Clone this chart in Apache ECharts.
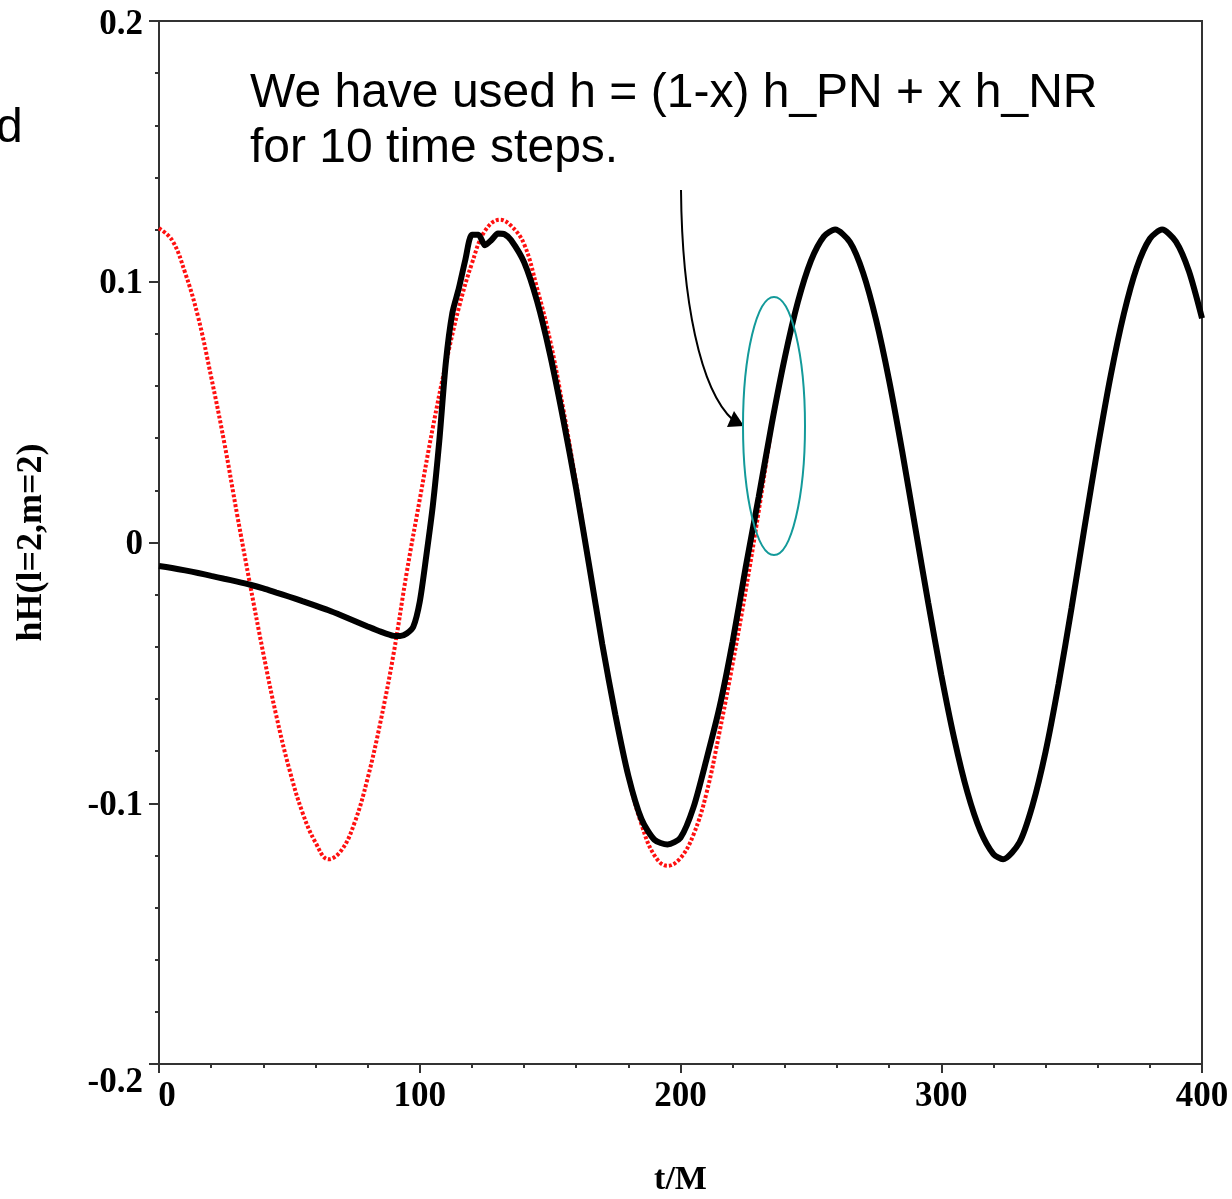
<!DOCTYPE html>
<html>
<head>
<meta charset="utf-8">
<script src="https://cdn.jsdelivr.net/npm/echarts@6/dist/echarts.min.js"></script>
<style>
html,body{margin:0;padding:0;background:#fff;}
#chart{width:1232px;height:1199px;}
</style>
</head>
<body>
<div id="chart"></div>
<script>
// ---- data ----
const tRed = [0,5,10,15,20,25,30,35,40,45,50,55,60,65,70,75,80,85,90,95,100,105,110,115,120,125,130.8,135,140,145,150,155,160,165,170,175,180,185,190,195,200,205,210,215,220,225,230,235];
const hRed = [0.1205,0.1160,0.1035,0.0865,0.0635,0.0385,0.0105,-0.0165,-0.0425,-0.0665,-0.0870,-0.1035,-0.1150,-0.1215,-0.1180,-0.1075,-0.0905,-0.0685,-0.0425,-0.0115,0.0165,0.0440,0.0685,0.0900,0.1070,0.1195,0.1238,0.1215,0.1145,0.0975,0.0775,0.0515,0.0225,-0.0085,-0.0390,-0.0660,-0.0900,-0.1080,-0.1200,-0.1240,-0.1210,-0.1120,-0.0960,-0.0725,-0.0465,-0.0185,0.0120,0.0450];

const tBlack = [0,5,10,15,20,25,30,35,40,45,50,55,60,65,70,75,80,85,90,92.5,95,97.5,100,102.5,105,107.5,110,112.5,115,117.5,120,122.5,125,127.5,130,132.5,135,140,145,150,155,160,165,170,175,180,185,190,195,200,205,210,215,220,225,230,235,240,245,250,255,259.3,265,270,275,280,285,290,295,300,305,310,315,320,323.7,330,335,340,345,350,355,360,365,370,375,380,384.7,390,395,400];
const hBlack = [-0.0090,-0.0098,-0.0107,-0.0117,-0.0128,-0.0139,-0.0150,-0.0162,-0.0176,-0.0192,-0.0208,-0.0225,-0.0242,-0.0260,-0.0280,-0.0301,-0.0322,-0.0342,-0.0358,-0.0359,-0.0349,-0.0324,-0.0227,-0.0052,0.0140,0.0390,0.0690,0.0880,0.0975,0.1085,0.1180,0.1180,0.1140,0.1160,0.1185,0.1182,0.1160,0.1075,0.0925,0.0720,0.0474,0.0205,-0.0090,-0.0390,-0.0660,-0.0895,-0.1060,-0.1140,-0.1158,-0.1132,-0.1015,-0.0830,-0.0630,-0.0380,-0.0095,0.0175,0.0455,0.0709,0.0922,0.1080,0.1174,0.1200,0.1152,0.1035,0.0854,0.0622,0.0351,0.0059,-0.0231,-0.0507,-0.0753,-0.0957,-0.1106,-0.1195,-0.1215,-0.1150,-0.1008,-0.0803,-0.0543,-0.0249,0.0061,0.0363,0.0641,0.0876,0.1055,0.1165,0.1200,0.1154,0.1040,0.0860];

const xTicks = [0,100,200,300,400];
const yTicks = [-0.2,-0.1,0,0.1,0.2];
const xName = 't/M';
const yName = 'hH(l=2,m=2)';
const noteLine1 = 'We have used h = (1-x) h_PN + x h_NR';
const noteLine2 = 'for 10 time steps.';

const redData = tRed.map((t,i)=>[t,hRed[i]]);
const blackData = tBlack.map((t,i)=>[t,hBlack[i]]);

const serif = '"Liberation Serif","DejaVu Serif",serif';
const sans = '"Liberation Sans",Arial,sans-serif';
const axisCol = '#333';
const lblSize = 35;

const chart = echarts.init(document.getElementById('chart'), null, {renderer:'canvas'});
chart.setOption({
  animation:false,
  backgroundColor:'#fff',
  grid:{left:159,right:30,top:21,bottom:135,show:true,borderColor:axisCol,borderWidth:2,containLabel:false,outerBoundsMode:'none'},
  xAxis:{
    type:'value',min:xTicks[0],max:xTicks[xTicks.length-1],interval:100,
    name:xName,nameLocation:'middle',nameGap:99,
    nameTextStyle:{fontFamily:serif,fontWeight:'bold',fontSize:34,color:'#000'},
    axisLine:{show:true,onZero:false,lineStyle:{color:axisCol,width:2}},
    axisTick:{show:true,inside:false,length:9,lineStyle:{color:axisCol,width:2}},
    minorTick:{show:true,splitNumber:5,length:4,lineStyle:{color:axisCol,width:2}},
    splitLine:{show:false},
    axisLabel:{
      margin:15,color:'#000',fontFamily:serif,fontWeight:'bold',fontSize:lblSize,
      formatter:function(v){ return v===0 ? '{z|0}' : '{n|'+v+'}'; },
      rich:{z:{fontFamily:serif,fontWeight:'bold',fontSize:lblSize,color:'#000',padding:[0,0,0,16]},
            n:{fontFamily:serif,fontWeight:'bold',fontSize:lblSize,color:'#000'}}
    }
  },
  yAxis:{
    type:'value',min:yTicks[0],max:yTicks[yTicks.length-1],interval:0.1,
    name:yName,nameLocation:'middle',nameGap:109,nameRotate:90,
    nameTextStyle:{fontFamily:serif,fontWeight:'bold',fontSize:36,color:'#000'},
    axisLine:{show:true,onZero:false,lineStyle:{color:axisCol,width:2}},
    axisTick:{show:true,inside:false,length:10,lineStyle:{color:axisCol,width:2}},
    minorTick:{show:true,splitNumber:5,length:4,lineStyle:{color:axisCol,width:2}},
    splitLine:{show:false},
    axisLabel:{
      margin:16,color:'#000',fontFamily:serif,fontWeight:'bold',fontSize:lblSize,
      formatter:function(v){
        const r = Math.round(v*10)/10;
        if (r===-0.2) return '{lo|-0.2}';
        if (r===0.2) return '{hi|0.2}';
        return '{n|'+r+'}';
      },
      rich:{
        lo:{fontFamily:serif,fontWeight:'bold',fontSize:lblSize,color:'#000',padding:[38,0,0,0]},
        hi:{fontFamily:serif,fontWeight:'bold',fontSize:lblSize,color:'#000',padding:[8,0,0,0]},
        n:{fontFamily:serif,fontWeight:'bold',fontSize:lblSize,color:'#000',padding:[5,0,0,0]}
      }
    }
  },
  series:[
    {type:'line',data:redData,smooth:0.4,showSymbol:false,z:2,
     lineStyle:{color:'#ff1010',width:4,type:[3,2]}},
    {type:'line',data:blackData,smooth:0.25,showSymbol:false,z:3,
     lineStyle:{color:'#000',width:6}}
  ],
  graphic:[
    {type:'text',left:-4,top:105,style:{text:'d',font:'48px '+sans,fill:'#000'}},
    {type:'text',left:250,top:70,style:{text:noteLine1,font:'48px '+sans,fill:'#000'}},
    {type:'text',left:250,top:125,style:{text:noteLine2,font:'48px '+sans,fill:'#000'}},
    {type:'bezierCurve',shape:{x1:681,y1:190,cpx1:682,cpy1:300,cpx2:700,cpy2:390,x2:733,y2:420},
     style:{stroke:'#000',lineWidth:2,fill:null},z:10},
    {type:'polygon',shape:{points:[[744,426],[727,427],[734,411]]},style:{fill:'#000'},z:10},
    {type:'ellipse',shape:{cx:774,cy:426,rx:31,ry:129},style:{stroke:'#139a9a',lineWidth:2,fill:null},z:10}
  ]
});
</script>
</body>
</html>
